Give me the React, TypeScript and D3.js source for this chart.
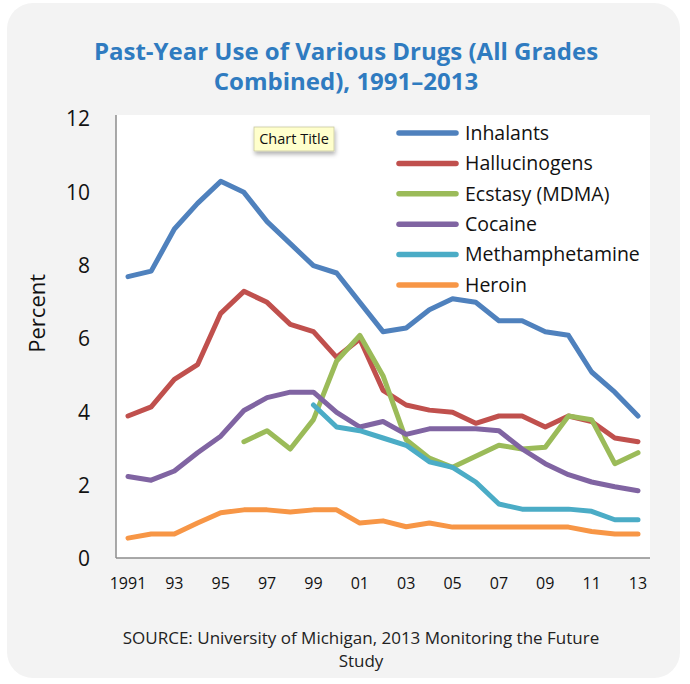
import * as d3 from "d3";

const years = d3.range(1991, 2014);
const xTickLabels = ["1991", "93", "95", "97", "99", "01", "03", "05", "07", "09", "11", "13"];
const yTicks = [0, 2, 4, 6, 8, 10, 12];

const seriesNames = ["Inhalants", "Hallucinogens", "Ecstasy (MDMA)", "Cocaine", "Methamphetamine", "Heroin"];
const seriesColors = ["#4F81BD", "#C0504D", "#9BBB59", "#8064A2", "#4BACC6", "#F79646"];

const inhalants = [7.7, 7.85, 9.0, 9.7, 10.3, 10.0, 9.2, 8.6, 8.0, 7.8, 7.0, 6.2, 6.3, 6.8, 7.1, 7.0, 6.5, 6.5, 6.2, 6.1, 5.1, 4.55, 3.9];
const hallucinogens = [3.9, 4.15, 4.9, 5.3, 6.7, 7.3, 7.0, 6.4, 6.2, 5.5, 6.0, 4.6, 4.2, 4.06, 4.0, 3.7, 3.9, 3.9, 3.6, 3.9, 3.75, 3.3, 3.2];
const ecstasy = [null, null, null, null, null, 3.2, 3.5, 3.0, 3.8, 5.4, 6.1, 5.0, 3.25, 2.75, 2.5, 2.8, 3.1, 3.0, 3.05, 3.9, 3.8, 2.6, 2.9];
const cocaine = [2.25, 2.15, 2.4, 2.9, 3.35, 4.05, 4.4, 4.55, 4.55, 4.0, 3.6, 3.75, 3.4, 3.55, 3.55, 3.55, 3.5, 3.0, 2.6, 2.3, 2.1, 1.97, 1.86];
const methamphetamine = [null, null, null, null, null, null, null, null, 4.2, 3.6, 3.5, 3.3, 3.1, 2.65, 2.5, 2.1, 1.5, 1.36, 1.36, 1.36, 1.3, 1.07, 1.07];
const heroin = [0.57, 0.68, 0.68, 0.98, 1.26, 1.34, 1.34, 1.28, 1.34, 1.34, 0.98, 1.04, 0.88, 0.98, 0.87, 0.87, 0.87, 0.87, 0.87, 0.87, 0.75, 0.68, 0.68];

const seriesValues = [inhalants, hallucinogens, ecstasy, cocaine, methamphetamine, heroin];

const W = 690;
const H = 684;
const font = "'Open Sans', 'DejaVu Sans', sans-serif";

export default function App() {
  const plot = { left: 116, right: 650, top: 115, bottom: 558 };

  const x = d3.scaleLinear().domain([1991, 2013]).range([128, 638]);
  const y = d3.scaleLinear().domain([0, 12]).range([559, 119]);

  const line = d3
    .line<number | null>()
    .defined((d) => d != null)
    .x((_, i) => x(years[i]))
    .y((d) => y(d as number));

  const tickYears = years.filter((yr) => (yr - 1991) % 2 === 0);

  return (
    <svg
      width={W}
      height={H}
      style={{ position: "absolute", left: 0, top: 0, background: "#fff" }}
      fontFamily={font}
    >
      <defs>
        <filter id="shadow" x="-20%" y="-20%" width="150%" height="170%">
          <feDropShadow dx="1" dy="3" stdDeviation="2" floodColor="#000" floodOpacity="0.3" />
        </filter>
      </defs>
      {/* card */}
      <rect x={7} y={3} width={673} height={675} rx={26} fill="#F3F3F3" />

      {/* title */}
      <text x={346} y={52} dy="0.35em" textAnchor="middle" fill="#2F7BC0" fontSize={24} fontWeight={700}>
        Past-Year Use of Various Drugs (All Grades
      </text>
      <text x={346} y={82} dy="0.35em" textAnchor="middle" fill="#2F7BC0" fontSize={24} fontWeight={700}>
        Combined), 1991–2013
      </text>

      {/* plot area */}
      <rect x={plot.left} y={plot.top} width={plot.right - plot.left} height={plot.bottom - plot.top} fill="#fff" />
      <line x1={plot.left} x2={plot.left} y1={plot.top} y2={plot.bottom} stroke="#8c8c8c" strokeWidth={1.5} />
      <line x1={plot.left} x2={plot.right} y1={plot.bottom} y2={plot.bottom} stroke="#8c8c8c" strokeWidth={1.5} />

      {/* y ticks */}
      {yTicks.map((t) => (
        <text key={t} x={90} y={y(t)} dy="0.35em" textAnchor="end" fontSize={21} fill="#111">
          {t}
        </text>
      ))}
      <text
        transform={`translate(37,${y(6.7)}) rotate(-90)`}
        textAnchor="middle"
        dy="0.35em"
        fontSize={22}
        fill="#111"
      >
        Percent
      </text>

      {/* x ticks */}
      {tickYears.map((yr, i) => (
        <text key={yr} x={x(yr)} y={583} dy="0.35em" textAnchor="middle" fontSize={16} fill="#111">
          {xTickLabels[i]}
        </text>
      ))}

      {/* lines */}
      {seriesValues.map((vals, i) => (
        <path
          key={seriesNames[i]}
          d={line(vals) || ""}
          fill="none"
          stroke={seriesColors[i]}
          strokeWidth={5}
          strokeLinejoin="round"
          strokeLinecap="round"
        />
      ))}

      {/* legend */}
      {seriesNames.map((name, i) => {
        const ly = 133 + i * 30.4;
        return (
          <g key={name}>
            <line x1={399} x2={456} y1={ly} y2={ly} stroke={seriesColors[i]} strokeWidth={5.5} strokeLinecap="round" />
            <text x={465} y={ly} dy="0.35em" fontSize={19.5} fill="#111">
              {name}
            </text>
          </g>
        );
      })}

      {/* tooltip-like "Chart Title" box */}
      <g filter="url(#shadow)">
        <rect x={254} y={127} width={80} height={24} fill="#FFFFCC" stroke="#c8c8a0" strokeWidth={0.8} />
      </g>
      <text x={294} y={139} dy="0.35em" textAnchor="middle" fontSize={14.5} fill="#111">
        Chart Title
      </text>

      {/* footer */}
      <text x={361} y={638} dy="0.35em" textAnchor="middle" fontSize={17} fill="#222">
        SOURCE: University of Michigan, 2013 Monitoring the Future
      </text>
      <text x={361} y={661} dy="0.35em" textAnchor="middle" fontSize={17} fill="#222">
        Study
      </text>
    </svg>
  );
}
